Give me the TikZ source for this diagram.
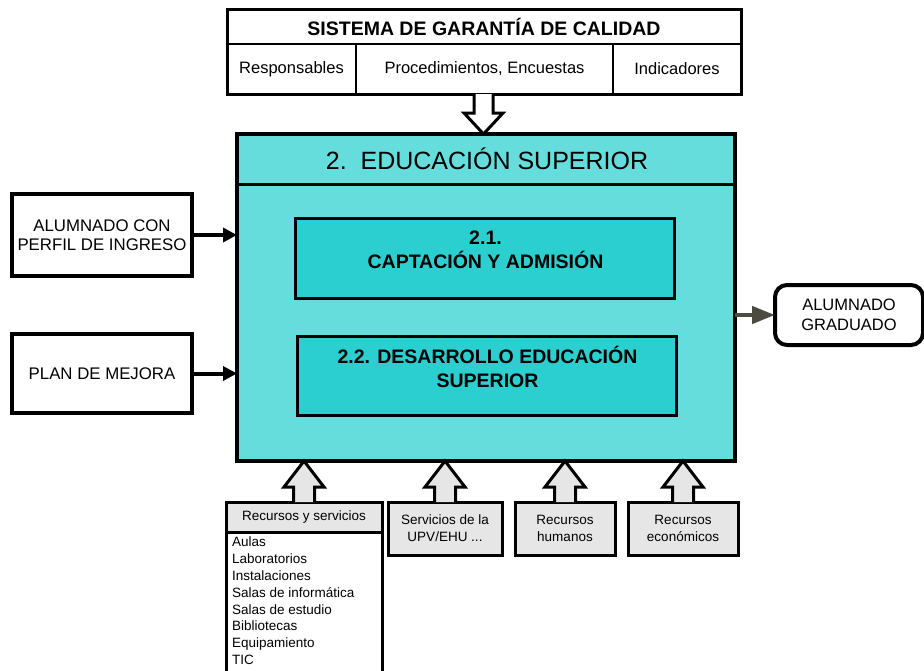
\documentclass[tikz,border=0pt]{standalone}
\usepackage{fontspec}
\setmainfont{Liberation Sans}
\usetikzlibrary{calc,arrows.meta}
\definecolor{cyanA}{HTML}{66DDDD}
\definecolor{cyanB}{HTML}{2BCFCF}
\definecolor{greyA}{HTML}{E6E6E6}
\definecolor{greyB}{HTML}{4B4B40}
\newcommand\fs[2]{\fontsize{#1}{#2}\selectfont}
\tikzset{
  box/.style={draw=black, inner sep=0pt, outer sep=0pt, align=center},
  inbox/.style={box, fill=cyanB, line width=3pt, minimum width=379pt},
  sidebox/.style={box, fill=white, line width=4pt, minimum width=180pt, font=\fs{16.8}{19.5}},
  resbox/.style={box, fill=greyA, line width=3pt, minimum height=53pt, font=\fs{13.5}{17}},
  bold/.style={font=\bfseries\fs{19.5}{24}, align=center},
  cell/.style={font=\fs{16.5}{18}},
  inarrow/.style={line width=4pt, -{Triangle[length=14pt,width=14pt]}},
  outarrow/.style={greyB, line width=4.5pt, -{Triangle[length=23pt,width=17pt]}},
  hollow/.style={draw=black, line width=3pt, line join=miter},
}
\newcommand\hollowup[2]{%
  \draw[hollow, fill=greyA] ($(#1)+(-10.5,0)$) -- ($(#1)+(-10.5,-15)$) -- ($(#1)+(-20,-15)$)
    -- (#2) -- ($(#1)+(20,-15)$) -- ($(#1)+(10.5,-15)$) -- ($(#1)+(10.5,0)$);}
\begin{document}
\begin{tikzpicture}[x=1pt,y=-1pt]
\useasboundingbox (0,0) rectangle (924,670);
\clip (0,0) rectangle (924,670);

% Sistema de garantia de calidad
\node[box, line width=3pt, minimum width=514pt, minimum height=85pt] (sgc) at (484,51.5) {};
\draw[line width=2pt] (227,44) -- (741,44);
\draw[line width=2pt] (356,44) -- (356,94);
\draw[line width=2pt] (613,44) -- (613,94);
\node[font=\bfseries\fs{19.5}{22}] (sgct) at (484,26.5) {SISTEMA DE GARANTÍA DE CALIDAD};
\node[cell] (c1) at (291.5,69) {Responsables};
\node[cell] (c2) at (484.5,69) {Procedimientos, Encuestas};
\node[cell] (c3) at (677,69) {Indicadores};

% Main box
\node[box, fill=cyanA, line width=4pt, minimum width=498pt, minimum height=327pt] (main) at (486,297.5) {};
\draw[line width=3pt] (237,184) -- (735,184);
\node[font=\fs{25}{30}] (maint) at (487,159) {2.\ \ EDUCACIÓN SUPERIOR};

\node[inbox, minimum height=80pt] (ca) at (484.5,258) {};
\node[bold] (cat) at (485.5,250) {2.1.\\CAPTACIÓN Y ADMISIÓN};
\node[inbox, minimum height=79pt] (de) at (486.5,375.5) {};
\node[bold] (det) at (487.5,367) {2.2. DESARROLLO EDUCACIÓN\\SUPERIOR};

% top hollow arrow
\coordinate (tb) at ($(sgc.south)+(-0.5,0)$);
\draw[hollow, fill=white] ($(tb)+(-9.5,0)$) -- ($(tb)+(-9.5,19)$) -- ($(tb)+(-19.5,19)$)
  -- (tb |- main.north) -- ($(tb)+(19.5,19)$) -- ($(tb)+(9.5,19)$) -- ($(tb)+(9.5,0)$);

% Left inputs
\node[sidebox, minimum height=82pt] (alu) at (102,235) {ALUMNADO CON\\PERFIL DE INGRESO};
\node[sidebox, minimum height=79pt] (plan) at (102,373.5) {PLAN DE MEJORA};
\draw[inarrow] (alu.east) -- (alu.east -| main.west);
\draw[inarrow] (plan.east) -- (plan.east -| main.west);

% Right output
\node[box, line width=4pt, rounded corners=12pt, minimum width=148pt, minimum height=60pt, font=\fs{16.5}{20}] (grad) at (849,315) {ALUMNADO\\GRADUADO};
\draw[outarrow] (grad.west -| main.east) -- (grad.west);

% Resources
\node[box, fill=white, line width=3pt, minimum width=156pt, minimum height=150pt, anchor=north west] (rsl) at (226,532) {};
\node[resbox, minimum width=156pt, minimum height=30pt] (rsh) at (304,517) {Recursos y servicios};
\node[anchor=north west, inner sep=0pt, align=left, font=\fs{13.5}{16.8}] (rslt) at (232,537)
  {Aulas\\Laboratorios\\Instalaciones\\Salas de informática\\Salas de estudio\\Bibliotecas\\Equipamiento\\TIC};
\node[resbox, minimum width=114pt] (upv) at (445,528.5) {Servicios de la\\UPV/EHU ...};
\node[resbox, minimum width=100pt] (rh) at (565,528.5) {Recursos\\humanos};
\node[resbox, minimum width=110pt] (re) at (683,528.5) {Recursos\\económicos};

\hollowup{rsh.north}{rsh.north |- main.south}
\hollowup{upv.north}{upv.north |- main.south}
\hollowup{rh.north}{rh.north |- main.south}
\hollowup{re.north}{re.north |- main.south}
\end{tikzpicture}
\end{document}
